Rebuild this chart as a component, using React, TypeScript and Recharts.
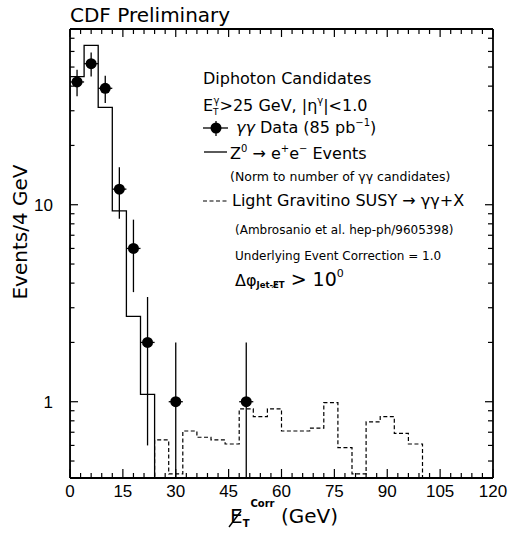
import { ComposedChart, ErrorBar, Line, Scatter, XAxis, YAxis } from 'recharts';

const W = 508;
const H = 538;
const FONT = '"DejaVu Sans", sans-serif';
const NUM_FONT = '"Liberation Sans", Arial, sans-serif';

const BIN_WIDTH = 4;
const Y_MIN = 0.41;
const Y_MAX = 78;
// bins with no entries sit below the visible range and get clipped
const FLOOR = 0.1;

// gamma-gamma candidates: bin centres (GeV), counts and their errors
const DATA_MET = [2, 6, 10, 14, 18, 22, 30, 50];
const DATA_COUNTS = [42, 52, 39, 12, 6, 2, 1, 1];
const DATA_ERR = [6.5, 7.2, 6.2, 3.5, 2.4, 1.4, 1, 1];

// Z -> ee events, normalised, bins starting at 0 GeV
const Z_START = 0;
const Z_HEIGHTS = [44.7, 64.4, 31.2, 9.3, 2.71, 1.09];

// light gravitino SUSY expectation, bins starting at 24 GeV
const SUSY_START = 24;
const SUSY_HEIGHTS = [
  0.64, 0.43, 0.71, 0.66, 0.64, 0.61, 0.92, 0.84, 0.92, 0.71,
  0.71, 0.735, 0.99, 0.585, 0.43, 0.79, 0.84, 0.69, 0.61,
];

const X_TICKS = [
  0, 3, 6, 9, 12, 15, 18, 21, 24, 27, 30, 33, 36, 39, 42, 45, 48, 51, 54, 57, 60,
  63, 66, 69, 72, 75, 78, 81, 84, 87, 90, 93, 96, 99, 102, 105, 108, 111, 114, 117, 120,
];
const X_LABELS = [0, 15, 30, 45, 60, 75, 90, 105, 120];
const Y_TICKS = [0.5, 0.6, 0.7, 0.8, 0.9, 1, 2, 3, 4, 5, 6, 7, 8, 9, 10, 20, 30, 40, 50, 60, 70];
const Y_LABELS = [1, 10];

function stepSeries(start: number, heights: number[]) {
  const pts = heights.map((h, i) => ({ x: start + i * BIN_WIDTH, y: h }));
  pts.unshift({ x: start - BIN_WIDTH, y: FLOOR });
  pts.push({ x: start + heights.length * BIN_WIDTH, y: FLOOR });
  return pts;
}

const zSeries = stepSeries(Z_START, Z_HEIGHTS);
const susySeries = stepSeries(SUSY_START, SUSY_HEIGHTS);

const dataPoints = DATA_MET.map((x, i) => ({
  x,
  y: DATA_COUNTS[i],
  ex: BIN_WIDTH / 2,
  ey: [Math.min(DATA_ERR[i], DATA_COUNTS[i] - Y_MIN), DATA_ERR[i]],
}));

const AXIS = { stroke: '#000', strokeWidth: 1.8 };
const TICK = { stroke: '#000', strokeWidth: 1.2 };

function BottomTick({ x, y, payload }: any) {
  const major = X_LABELS.includes(payload.value);
  return (
    <g>
      <line x1={x} x2={x} y1={y} y2={y - (major ? 9 : 5)} {...TICK} />
      {major && (
        <text x={x} y={y + 19} textAnchor="middle" fontFamily={NUM_FONT} fontSize={17} fill="#000">
          {payload.value}
        </text>
      )}
    </g>
  );
}

function TopTick({ x, y, payload }: any) {
  const major = X_LABELS.includes(payload.value);
  return <line x1={x} x2={x} y1={y} y2={y + (major ? 8 : 5)} {...TICK} />;
}

function LeftTick({ x, y, payload }: any) {
  const major = Y_LABELS.includes(payload.value);
  return (
    <g>
      <line x1={x} x2={x + (major ? 8 : 4.5)} y1={y} y2={y} {...TICK} />
      {major && (
        <text x={x - 17} y={y + 6} textAnchor="end" fontFamily={NUM_FONT} fontSize={17} fill="#000">
          {payload.value}
        </text>
      )}
    </g>
  );
}

function RightTick({ x, y, payload }: any) {
  const major = Y_LABELS.includes(payload.value);
  return <line x1={x} x2={x - (major ? 8 : 5)} y1={y} y2={y} {...TICK} />;
}

const Dot = (props: any) => <circle cx={props.cx} cy={props.cy} r={5.5} fill="#000" />;

function Annotations() {
  return (
    <svg
      width={W}
      height={H}
      style={{ position: 'absolute', left: 0, top: 0, pointerEvents: 'none' }}
      fontFamily={FONT}
      fill="#000"
    >
      <text x={70} y={22} fontSize={20}>CDF Preliminary</text>

      <text transform="translate(27,232) rotate(-90)" textAnchor="middle" fontSize={20}>
        Events/4 GeV
      </text>

      {/* missing E_T axis title */}
      <text x={230} y={523} fontSize={20}>
        E
        <tspan fontSize={10} fontWeight="bold" dy={4}>T</tspan>
        <tspan fontSize={10} fontWeight="bold" dx={1} dy={-20}>Corr</tspan>
        <tspan fontSize={20} dy={16}>{' (GeV)'}</tspan>
      </text>
      <line x1={229} y1={527} x2={241} y2={511} stroke="#000" strokeWidth={1.4} />

      <text x={203} y={84} fontSize={16}>Diphoton Candidates</text>
      <text x={203} y={111} fontSize={16}>
        E
        <tspan fontSize={9} dy={4}>T</tspan>
        <tspan fontSize={10} dx={-5} dy={-11}>γ</tspan>
        <tspan fontSize={16} dy={7}>{'>25 GeV, |η'}</tspan>
        <tspan fontSize={10} dy={-7}>γ</tspan>
        <tspan fontSize={16} dy={7}>{'|<1.0'}</tspan>
      </text>

      <line x1={203} x2={228} y1={128} y2={128} stroke="#000" strokeWidth={1.3} />
      <line x1={216} x2={216} y1={121} y2={136} stroke="#000" strokeWidth={1.3} />
      <circle cx={216} cy={128} r={5.5} fill="#000" />
      <text x={236} y={133} fontSize={16}>
        <tspan fontStyle="italic">γγ</tspan>
        {' Data (85 pb'}
        <tspan fontSize={10} dy={-7}>−1</tspan>
        <tspan fontSize={16} dy={7}>)</tspan>
      </text>

      <line x1={204} x2={227} y1={152} y2={152} stroke="#000" strokeWidth={1.3} />
      <text x={230} y={159} fontSize={16}>
        Z
        <tspan fontSize={10} dy={-7}>0</tspan>
        <tspan fontSize={16} dy={7}>{' → e'}</tspan>
        <tspan fontSize={10} dy={-7}>+</tspan>
        <tspan fontSize={16} dy={7}>e</tspan>
        <tspan fontSize={10} dy={-7}>−</tspan>
        <tspan fontSize={16} dy={7}>{' Events'}</tspan>
      </text>

      <text x={230} y={181} fontSize={12.5}>(Norm to number of γγ candidates)</text>

      <line x1={203} x2={228} y1={201} y2={201} stroke="#000" strokeWidth={1.2} strokeDasharray="4 2.5" />
      <text x={232} y={206} fontSize={16}>Light Gravitino SUSY → γγ+X</text>

      <text x={235} y={234} fontSize={12}>(Ambrosanio et al. hep-ph/9605398)</text>
      <text x={235} y={260} fontSize={12}>Underlying Event Correction = 1.0</text>

      <text x={235} y={286} fontSize={16}>
        Δφ
        <tspan fontSize={8.5} fontWeight="bold" dy={2}>Jet-E̸T</tspan>
        <tspan fontSize={19} dy={-2}>{' > 10'}</tspan>
        <tspan fontSize={11} dy={-9}>0</tspan>
      </text>
    </svg>
  );
}

export default function App() {
  return (
    <div style={{ position: 'absolute', left: 0, top: 0, width: W, height: H, background: '#fff' }}>
      <ComposedChart width={W} height={H} margin={{ top: 28, right: 14, bottom: 59, left: 69 }}>
        <XAxis
          dataKey="x"
          type="number"
          domain={[0, 120]}
          allowDataOverflow
          ticks={X_TICKS}
          interval={0}
          tick={BottomTick}
          tickLine={false}
          tickSize={0}
          tickMargin={0}
          height={1}
          axisLine={AXIS}
        />
        <XAxis
          xAxisId="top"
          orientation="top"
          dataKey="x"
          type="number"
          domain={[0, 120]}
          allowDataOverflow
          ticks={X_TICKS}
          interval={0}
          tick={TopTick}
          tickLine={false}
          tickSize={0}
          tickMargin={0}
          height={1}
          axisLine={AXIS}
        />
        <YAxis
          type="number"
          scale="log"
          domain={[Y_MIN, Y_MAX]}
          allowDataOverflow
          ticks={Y_TICKS}
          interval={0}
          tick={LeftTick}
          tickLine={false}
          tickSize={0}
          tickMargin={0}
          width={1}
          axisLine={AXIS}
        />
        <YAxis
          yAxisId="right"
          orientation="right"
          type="number"
          scale="log"
          domain={[Y_MIN, Y_MAX]}
          allowDataOverflow
          ticks={Y_TICKS}
          interval={0}
          tick={RightTick}
          tickLine={false}
          tickSize={0}
          tickMargin={0}
          width={1}
          axisLine={AXIS}
        />
        <Line
          data={zSeries}
          dataKey="y"
          type="stepAfter"
          stroke="#000"
          strokeWidth={1.3}
          dot={false}
          isAnimationActive={false}
        />
        <Line
          data={susySeries}
          dataKey="y"
          type="stepAfter"
          stroke="#000"
          strokeWidth={1.2}
          strokeDasharray="4 2.5"
          dot={false}
          isAnimationActive={false}
        />
        <Scatter data={dataPoints} dataKey="y" shape={Dot} isAnimationActive={false}>
          <ErrorBar dataKey="ey" direction="y" width={0} stroke="#000" strokeWidth={1.3} isAnimationActive={false} />
          <ErrorBar dataKey="ex" direction="x" width={0} stroke="#000" strokeWidth={1.3} isAnimationActive={false} />
        </Scatter>
      </ComposedChart>
      <Annotations />
    </div>
  );
}
